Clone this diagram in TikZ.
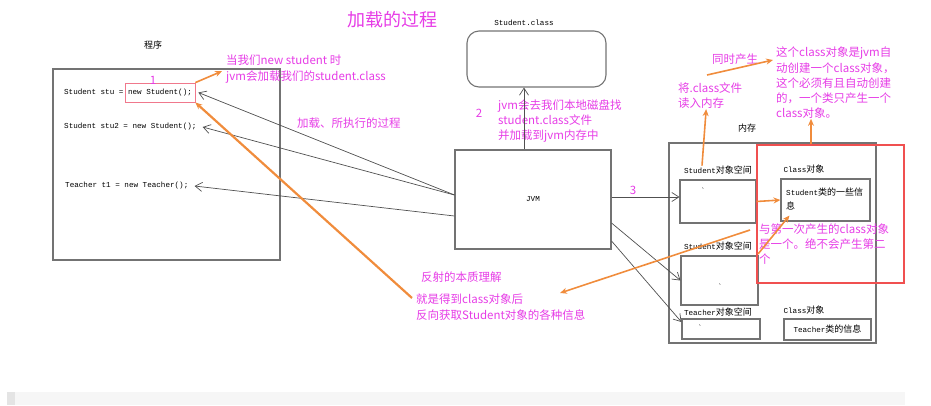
\documentclass[tikz,border=0pt]{standalone}
\usepackage{fontspec}
\setmainfont{Noto Sans CJK SC}
\newfontfamily\codefont{Liberation Mono}
\usetikzlibrary{arrows.meta, positioning, calc}
\definecolor{notemag}{RGB}{230,60,230}
\definecolor{arrorange}{RGB}{240,140,60}
\definecolor{boxgray}{RGB}{115,115,115}
\definecolor{linegray}{RGB}{80,80,80}
\definecolor{boxred}{RGB}{240,80,80}
\definecolor{boxpink}{RGB}{240,120,140}
\definecolor{barbg}{RGB}{246,246,246}
\definecolor{baredge}{RGB}{228,228,228}
\newcommand{\codetxt}[1]{{\fontsize{7.6}{9}\selectfont\codefont #1}}
\tikzset{
  note/.style={text=notemag, font=\fontsize{11.5}{15.5}\selectfont, align=left, inner sep=0pt, anchor=north west},
  num/.style={text=notemag, font=\fontsize{11.5}{14}\selectfont, inner sep=0pt},
  lbl/.style={font=\fontsize{9}{11}\selectfont, inner sep=0pt},
  code/.style={font=\fontsize{7.6}{9}\selectfont\codefont, inner sep=0pt},
  membox/.style={rectangle, draw=boxgray, line width=1.1pt, inner sep=0pt, font=\fontsize{9}{11}\selectfont},
  oarrow/.style={arrorange, line width=1.6pt, -{Stealth[length=7pt,width=6pt]}},
  garrow/.style={linegray, line width=0.7pt, -{Straight Barb[length=7pt,width=9pt]}},
}
\begin{document}
\begin{tikzpicture}[x=1pt, y=-1pt]
\useasboundingbox (0,0) rectangle (931,405);
\fill[barbg] (7,392) rectangle (905,405);
\fill[baredge] (7,392) rectangle (15,405);
\node (title) [text=notemag, font=\fontsize{18}{20}\selectfont] at (392,20) {加载的过程};
% program
\node (proglbl) [lbl] at (153,45) {程序};
\node (prog) [membox, minimum width=227pt, minimum height=191pt] at (166.5,164.5) {};
\node (newstu) [code, draw=boxpink, line width=0.8pt, inner xsep=3pt, minimum height=19pt] at (160,92.5) {new Student();};
\node (code1) [code, base left=1pt of newstu] {Student stu =};
\node (code2) [code, anchor=west] at (64,127) {Student stu2 = new Student();};
\node (code3) [code, anchor=west] at (65,186) {Teacher t1 = new Teacher();};
% jvm and class file
\node (sclasslbl) [code] at (524,23) {Student.class};
\node (sclass) [membox, rounded corners=12pt, minimum width=139pt, minimum height=56pt] at (536.5,59) {};
\node (jvm) [membox, minimum width=156pt, minimum height=99pt] at (533,199.5) {\codetxt{JVM}};
% memory
\node (memlbl) [lbl] at (747,128) {内存};
\node (mem) [membox, minimum width=207pt, minimum height=200pt] at (772.5,243) {};
\node (slbl1) [lbl] at (718,170) {\codetxt{Student}对象空间};
\node (sobj1) [membox, minimum width=76pt, minimum height=43pt] at (718,201.5) {};
\node (slbl2) [lbl] at (718,246) {\codetxt{Student}对象空间};
\node (sobj2) [membox, minimum width=77pt, minimum height=49pt] at (719.5,280.5) {};
\node (tlbl) [lbl] at (718,312) {\codetxt{Teacher}对象空间};
\node (tobj) [membox, minimum width=78pt, minimum height=20pt] at (721,329) {};
\node (tick1) [code] at (703,191) {\textasciigrave};
\node (tick2) [code] at (720,287) {\textasciigrave};
\node (tick3) [code] at (700,328) {\textasciigrave};
\node (clbl1) [lbl] at (804,169) {\codetxt{Class}对象};
\node (scls) [membox, minimum width=89pt, minimum height=42pt] at (825.5,200) {};
\node (sclstxt) [lbl, font=\fontsize{9}{14}\selectfont, align=left, anchor=north west] at (786,188) {\codetxt{Student}类的一些信\\息};
\node (clbl2) [lbl] at (804,310) {\codetxt{Class}对象};
\node (tcls) [membox, minimum width=87pt, minimum height=21pt] at (827.5,329.5) {\codetxt{Teacher}类的信息};
\node (redbox) [draw=boxred, line width=2.2pt, minimum width=147pt, minimum height=138pt] at (830.5,214) {};
% notes
\node (num1) [num] at (153,80) {1};
\node (num2) [num] at (479,113) {2};
\node (num3) [num] at (633,190) {3};
\node (note1) [note] at (226,55) {当我们new student 时\\jvm会加载我们的student.class};
\node (noteproc) [note] at (297,118) {加载、所执行的过程};
\node (note2) [note, font=\fontsize{11.5}{15}\selectfont] at (498,100) {jvm会去我们本地磁盘找\\student.class文件\\并加载到jvm内存中};
\node (notefile) [note, font=\fontsize{11.5}{15}\selectfont] at (678,83) {将.class文件\\读入内存};
\node (notesync) [note] at (712,54) {同时产生};
\node (notecls) [note, font=\fontsize{11.5}{15.2}\selectfont] at (776,47) {这个class对象是jvm自\\动创建一个class对象，\\这个必须有且自动创建\\的，一个类只产生一个\\class对象。};
\node (notesame) [note, font=\fontsize{11.5}{15}\selectfont] at (759,224) {与第一次产生的class对象\\是一个。绝不会产生第二\\个};
\node (notefs) [note] at (421,272) {反射的本质理解};
\node (note3) [note, font=\fontsize{11.5}{16}\selectfont] at (416,294) {就是得到class对象后\\反向获取Student对象的各种信息};
% gray connectors
\draw[garrow] ([yshift=4.5pt]jvm.west) -- ([xshift=3pt]newstu.east);
\draw[garrow] ([yshift=4.5pt]jvm.west) -- ([xshift=6pt]code2.east);
\draw[garrow] ([yshift=-16.5pt]jvm.west) -- ([xshift=6pt]code3.east);
\draw[garrow] ([xshift=-9pt]jvm.north) -- ([xshift=-9pt]jvm.north |- sclass.south);
\draw[garrow] ([yshift=2.5pt]jvm.east) -- ([yshift=2.5pt]jvm.east -| sobj1.west);
\draw[garrow] ([yshift=-23.5pt]jvm.east) -- (sobj2.west);
\draw[garrow] ([yshift=-41.5pt]jvm.east) -- ([yshift=7pt]tobj.west);
% orange connectors
\coordinate (oend) at (560,293);
\coordinate (ostart) at (750,230);
\coordinate (ostart2) at (758,254);
\draw[oarrow] (newstu.north east) -- ([xshift=-4pt,yshift=-2pt]note1.west);
\draw[oarrow, line width=2.2pt] ([xshift=-4pt,yshift=-4pt]note3.north west) -- (newstu.south east);
\draw[oarrow] (ostart) -- (oend);
\draw[oarrow] (ostart2) -- ([xshift=9pt,yshift=6pt]scls.south west);
\draw[oarrow] (sobj1.east) -- (scls.west);
\draw[oarrow] ([xshift=-16pt]slbl1.north) -- ([xshift=-4pt]notefile.south);
\draw[oarrow] ([xshift=29pt,yshift=8pt]notefile.north west) -- ([xshift=-3pt,yshift=-13pt]notecls.north west);
\draw[oarrow] ([xshift=-19.5pt]redbox.north) -- ([xshift=-19.5pt]redbox.north |- notecls.south);
\end{tikzpicture}
\end{document}
